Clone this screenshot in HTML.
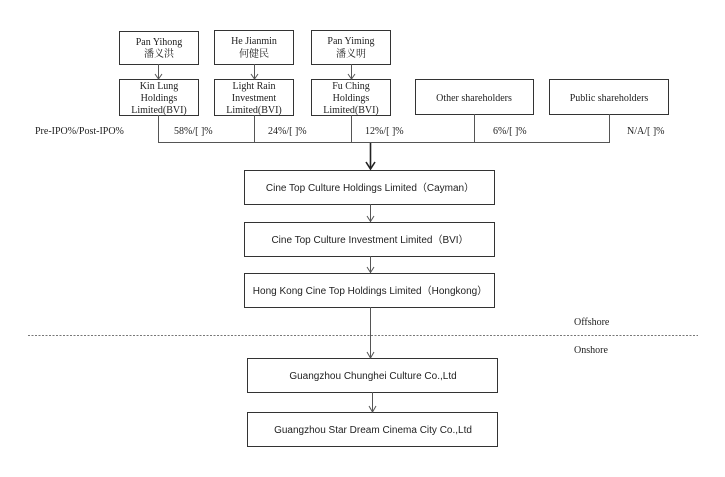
<!DOCTYPE html>
<html><head><meta charset="utf-8"><style>
body{margin:0;background:#fff;width:725px;height:472px;overflow:hidden}
svg text{fill:#222}
.s{font-family:"Liberation Serif","Noto Serif CJK SC",serif;font-size:10px}
.a{font-family:"Liberation Sans","Noto Sans CJK SC",sans-serif;font-size:10px}
</style></head><body>
<svg width="725" height="472" viewBox="0 0 725 472" xmlns="http://www.w3.org/2000/svg">
<g fill="none" stroke="#333" stroke-width="1">
<rect x="119.5" y="31.5" width="79" height="33"/>
<rect x="214.5" y="30.5" width="79" height="34"/>
<rect x="311.5" y="30.5" width="79" height="34"/>
<rect x="119.5" y="79.5" width="79" height="36"/>
<rect x="214.5" y="79.5" width="79" height="36"/>
<rect x="311.5" y="79.5" width="79" height="36"/>
<rect x="415.5" y="79.5" width="118" height="35"/>
<rect x="549.5" y="79.5" width="119" height="35"/>
<rect x="244.5" y="170.5" width="250" height="34"/>
<rect x="244.5" y="222.5" width="250" height="34"/>
<rect x="244.5" y="273.5" width="250" height="34"/>
<rect x="247.5" y="358.5" width="250" height="34"/>
<rect x="247.5" y="412.5" width="250" height="34"/>
</g>
<g stroke="#555" stroke-width="1" fill="none">
<path d="M158.5 64v15M254.5 64v15M351.5 64v15"/>
<path d="M155 74l3.5 5 3.5-5M251 74l3.5 5 3.5-5M348 74l3.5 5 3.5-5"/>
<path d="M158.5 115v27.5h451V114M254.5 115v27M351.5 115v27M474.5 114v28"/>
<path d="M370.5 204v18M367 216l3.5 5.5 3.5-5.5M370.5 256v17M367 267l3.5 5.5 3.5-5.5"/>
<path d="M370.5 307v51M367 352l3.5 6 3.5-6M372.5 392v20M369 406l3.5 6 3.5-6"/>
</g>
<path d="M370.5 143v26" stroke="#222" stroke-width="1.6"/>
<path d="M366 162l4.5 7 4.5-7" stroke="#222" stroke-width="1.6" fill="none"/>
<path d="M28 335.5H698" stroke="#777" stroke-dasharray="2,1.5"/>
<g class="s" text-anchor="middle">
<text x="159" y="45">Pan Yihong</text><text x="159" y="57">潘义洪</text>
<text x="254" y="44">He Jianmin</text><text x="254" y="57">何健民</text>
<text x="351" y="44">Pan Yiming</text><text x="351" y="57">潘义明</text>
<text x="159" y="89">Kin Lung</text><text x="159" y="101">Holdings</text><text x="159" y="113">Limited(BVI)</text>
<text x="254" y="89">Light Rain</text><text x="254" y="101">Investment</text><text x="254" y="113">Limited(BVI)</text>
<text x="351" y="89">Fu Ching</text><text x="351" y="101">Holdings</text><text x="351" y="113">Limited(BVI)</text>
<text x="474" y="101">Other shareholders</text>
<text x="609" y="101">Public shareholders</text>
</g>
<g class="s">
<text x="35" y="134">Pre-IPO%/Post-IPO%</text>
<text x="174" y="134">58%/[ ]%</text>
<text x="268" y="134">24%/[ ]%</text>
<text x="365" y="134">12%/[ ]%</text>
<text x="493" y="134">6%/[ ]%</text>
<text x="627" y="134">N/A/[ ]%</text>
<text x="574" y="325">Offshore</text>
<text x="574" y="353">Onshore</text>
</g>
<g class="a" text-anchor="middle">
<text x="370" y="191">Cine Top Culture Holdings Limited（Cayman）</text>
<text x="370" y="243">Cine Top Culture Investment Limited（BVI）</text>
<text x="370" y="294">Hong Kong Cine Top Holdings Limited（Hongkong）</text>
<text x="373" y="379">Guangzhou Chunghei Culture Co.,Ltd</text>
<text x="373" y="433">Guangzhou Star Dream Cinema City Co.,Ltd</text>
</g>
</svg>
</body></html>
